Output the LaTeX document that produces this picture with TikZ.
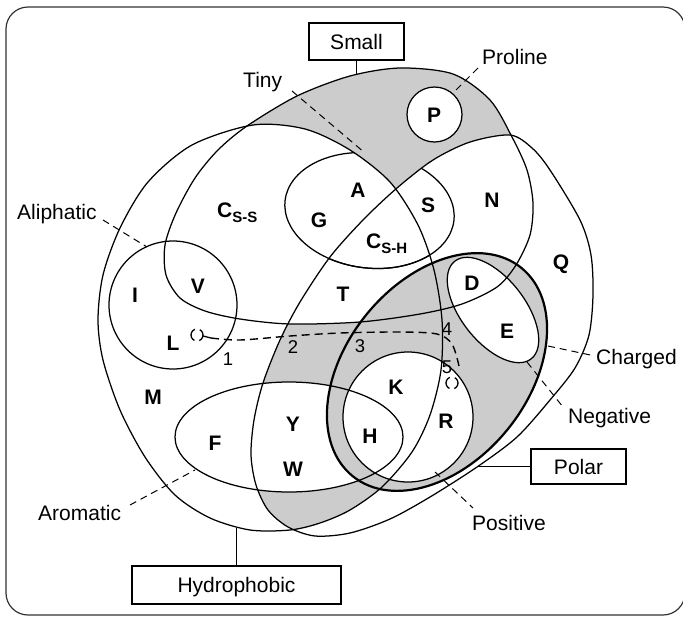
\documentclass[tikz,border=0pt]{standalone}
\usepackage{fontspec}
\setmainfont{Liberation Sans}
\begin{document}
\begin{tikzpicture}[x=1pt,y=-1pt,
  lw/.style={line width=1.25pt},
  shade/.style={fill=black!20},
  lab/.style={inner sep=0pt, font=\fontsize{21}{25}\selectfont},
  aa/.style={inner sep=0pt, anchor=base, font=\fontsize{21}{25}\selectfont\bfseries},
  num/.style={inner sep=0pt, anchor=base, font=\fontsize{18.5}{22}\selectfont},
  tagbox/.style={draw, line width=1.25pt, inner sep=0pt, text height=15pt, text depth=0pt, font=\fontsize{21}{25}\selectfont},
  leader/.style={line width=1pt, dash pattern=on 7pt off 5pt},
  chgrot/.style={rotate around={51:(437,372)}},
  negrot/.style={rotate around={-52:(493,310)}},
  tinyrot/.style={rotate around={-7:(369.5,210.5)}},
  ring/.style={line width=1.3pt, dash pattern=on 7pt off 5pt on 14pt off 5pt}
]
\useasboundingbox (0,0) rectangle (683,619);

\def\HydP{plot[smooth cycle] coordinates {(253,125) (305,129) (350,150) (390,182) (418,225) (434,270) (442,320) (441,370) (430,415) (412,452) (382,487) (350,510) (320,523) (290,530) (250,530) (210,518) (175,495) (145,457) (120,410) (103,360) (98,320) (103,275) (120,228) (148,182) (192,145)}}
\def\PolP{plot[smooth cycle] coordinates {(397,188) (433,160) (470,142) (510,135) (532,148) (550,170) (580,220) (591,255) (593,295) (589,335) (575,368) (550,400) (517,437) (477,467) (430,497) (390,519) (350,533) (315,536) (288,527) (268,510) (256,485) (251,455) (254,420) (263,383) (280,340) (300,302) (330,257) (363,220)}}
\def\SmallP{plot[smooth cycle] coordinates {(400,68) (453,74) (490,100) (512,137) (527,170) (533,203) (530,235) (516,265) (497,287) (462,304) (420,314) (360,322) (290,324) (240,319) (205,311) (180,298) (166,275) (165,245) (176,213) (195,178) (218,150) (247,126) (297,96) (350,76)}}
\def\AroP{(289,437) ellipse [x radius=114, y radius=55]}
\def\PosP{(408,417) circle [radius=65]}
\def\ProP{(434.5,114.5) circle [radius=27.5]}
\def\AliP{(173,305) circle [radius=64]}
\def\ChgP{(437,372) ellipse [x radius=134, y radius=91]}
\def\NegP{(493,310) ellipse [x radius=62, y radius=32]}
\def\TinyP{(369.5,210.5) ellipse [x radius=85, y radius=57.5]}

% frame
\draw[line width=1.2pt, black!80, rounded corners=22pt] (6,7) rectangle (685,615);

% shaded regions
\fill[shade] \SmallP;
\fill[white] \HydP;
\fill[white] \PolP;
\begin{scope}
  \clip \HydP;
  \fill[shade] \PolP;
\end{scope}
\begin{scope}
  \clip \HydP;
  \clip \PolP;
  \fill[white] \SmallP;
  \fill[white] \AroP;
\end{scope}
\fill[shade, chgrot] \ChgP;
\fill[white] \PosP;
\fill[white, negrot] \NegP;
\fill[white] \ProP;

% tiny (top part hidden in shaded area)
\begin{scope}
  \clip \HydP;
  \draw[lw, tinyrot] \TinyP;
\end{scope}
\begin{scope}
  \clip \PolP;
  \draw[lw, tinyrot] \TinyP;
\end{scope}

% outlines
\draw[lw] \HydP;
\draw[lw] \PolP;
\draw[lw] \SmallP;
\draw[lw] \AroP;
\draw[lw] \PosP;
\draw[lw] \AliP;
\draw[lw] \ProP;
\draw[lw, negrot] \NegP;
\draw[line width=2.2pt, chgrot] \ChgP;

% attachment points
\coordinate (smallT) at (356.5,74.5);
\coordinate (hydB) at (236.5,528);
\coordinate (polR) at (477,466.5);
\coordinate (tinyA) at (292,91);   \coordinate (tinyB) at (365,153);
\coordinate (proA) at (478,68);    \coordinate (proB) at (453,93);
\coordinate (aliA) at (103,220);   \coordinate (aliB) at (147,247);
\coordinate (aroA) at (130,505);   \coordinate (aroB) at (195,470);
\coordinate (chgA) at (548,346);   \coordinate (chgB) at (595,356);
\coordinate (negA) at (527,362);   \coordinate (negB) at (563,407);
\coordinate (posA) at (435,472);   \coordinate (posB) at (473,508);

% boxes
\node[tagbox, minimum width=95pt, minimum height=37pt] (smallbox) at (356.5,41.5) {Small};
\node[tagbox, minimum width=209pt, minimum height=38pt] (hydbox) at (236.5,585) {Hydrophobic};
\node[tagbox, minimum width=95pt, minimum height=35pt] (polarbox) at (578.5,466.5) {Polar};
\draw[lw] (smallbox.south) -- (smallT);
\draw[lw] (hydbox.north) -- (hydB);
\draw[lw] (polarbox.west) -- (polR);

% labels
\node[lab, anchor=base west] (tinyL) at (243,87) {Tiny};
\node[lab, anchor=base west] (proL) at (482,64.5) {Proline};
\node[lab, anchor=base west] (aliL) at (17,219) {Aliphatic};
\node[lab, anchor=base west] (aroL) at (38,520) {Aromatic};
\node[lab, anchor=base west] (chgL) at (596,364) {Charged};
\node[lab, anchor=base west] (negL) at (568,423) {Negative};
\node[lab, anchor=base west] (posL) at (472,530) {Positive};

\draw[leader] (tinyA) -- (tinyB);
\draw[leader] (proA) -- (proB);
\draw[leader] (aliA) -- (aliB);
\draw[leader] (aroA) -- (aroB);
\draw[leader] (chgA) -- (chgB);
\draw[leader] (negA) -- (negB);
\draw[leader] (posA) -- (posB);

% amino acids
\node[aa] (P) at (434,122) {P};
\node[aa] (A) at (358,197) {A};
\node[aa] (G) at (319,227) {G};
\node[aa] (S) at (428,212) {S};
\node[aa] (N) at (492,207) {N};
\node[aa, anchor=base west] (CSH) at (366,248) {C\raisebox{-5pt}{\fontsize{15}{15}\selectfont S-H}};
\node[aa] (T) at (343,301) {T};
\node[aa] (D) at (472,290) {D};
\node[aa, anchor=base west] (CSS) at (217,217) {C\raisebox{-5pt}{\fontsize{15}{15}\selectfont S-S}};
\node[aa] (V) at (198,293) {V};
\node[aa] (I) at (135,302) {I};
\node[aa] (L) at (173,350) {L};
\node[aa] (M) at (153,404) {M};
\node[aa] (F) at (215,450) {F};
\node[aa] (Y) at (293,431) {Y};
\node[aa] (W) at (293,476) {W};
\node[aa] (H) at (370,443) {H};
\node[aa] (K) at (396,394) {K};
\node[aa] (R) at (446,428) {R};
\node[aa] (Q) at (561,269) {Q};
\node[aa] (E) at (507,338) {E};

% dashed trace with numbers
\coordinate (lc) at (197,335);
\coordinate (lt1) at (203,336);
\coordinate (lt2) at (211,338);
\coordinate (d1) at (240,340);
\coordinate (d2) at (290,336);
\coordinate (d3) at (340,333);
\coordinate (d4) at (400,332);
\coordinate (d5) at (437,334);
\coordinate (d6) at (452,344);
\coordinate (d7) at (459,366);
\coordinate (rc) at (452,383);
\draw[ring] (lc) circle [radius=6];
\draw[ring] (rc) circle [radius=6];
\draw[line width=1.3pt] (lt1) -- (lt2);
\draw[line width=1.4pt, dash pattern=on 8pt off 5pt] plot[smooth] coordinates {(lt2) (d1) (d2) (d3) (d4) (d5) (d6) (d7)};
\node[num] (n1) at (228,365) {1};
\node[num] (n2) at (293,353) {2};
\node[num] (n3) at (360,352) {3};
\node[num] (n4) at (447,335) {4};
\node[num] (n5) at (447,373) {5};
\end{tikzpicture}
\end{document}
